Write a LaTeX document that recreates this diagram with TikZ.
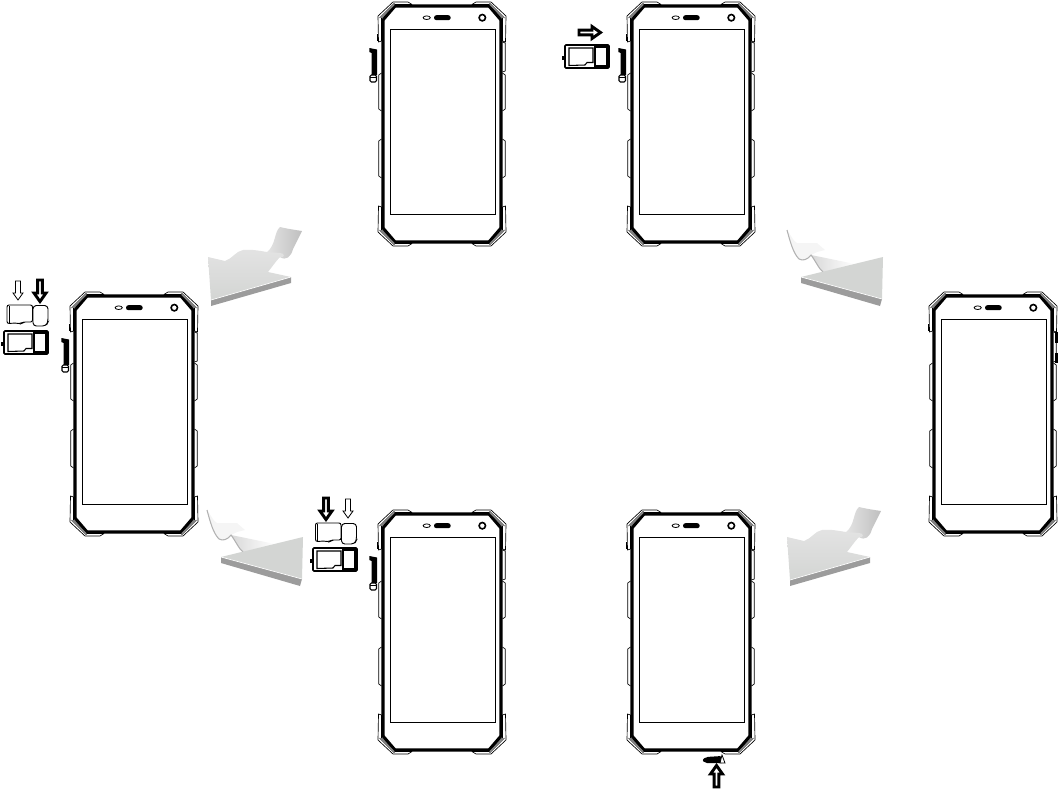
\documentclass[tikz,border=0pt]{standalone}
\usepackage{tikz}
\usetikzlibrary{positioning,calc}
\definecolor{flatgray}{HTML}{D3D5D3}
\definecolor{sidegray}{HTML}{9C9C9C}
\tikzset{
  pics/phone/.style={code={
    \draw[line width=2.3pt, black] (5,18) -- (17,4) -- (111,4) -- (123,18) -- (123,226) -- (111,240) -- (17,240) -- (5,226) -- cycle;
    \foreach \sx/\sy in {1/1,-1/1,1/-1,-1/-1} {
      \begin{scope}[shift={(64,122)}, xscale=\sx, yscale=\sy]
        \draw[line width=.5pt, fill=white, line join=round] (-64,-108) -- (-49,-122) -- (-34,-122) -- (-30,-119.5) -- (-47,-119.5) -- (-60.5,-106) -- (-60.5,-83) -- (-63.5,-82) -- cycle;
        \draw[line width=.5pt] (-62.5,-106) -- (-48,-120.5) -- (-47,-119.5);
      \end{scope}
    }
    \foreach \ya/\yb in {72/108,138/175} {
      \draw[line width=.5pt] (3.5,\ya-1) -- (.8,\ya+1) -- (.8,\yb-1) -- (3.5,\yb+1);
      \draw[line width=.5pt] (124.5,\ya-1) -- (127.2,\ya+1) -- (127.2,\yb-1) -- (124.5,\yb+1);
    }
    \draw[line width=.5pt] (124.5,40) -- (127.2,41) -- (127.2,69) -- (124.5,70);
    \draw[line width=1pt] (-.5,32) -- (-.5,39);
    \draw[line width=.75pt] (12.5,27) rectangle (117.5,212);
    \draw[line width=.6pt] (48.7,15.7) ellipse (3.6 and 1.8);
    \fill[black, rounded corners=1.8pt] (56,13.2) rectangle (72.7,18.2);
    \draw[line width=1.2pt] (104.3,15.7) circle (3.2);
  }},
  pics/traydoor/.style={code={
    \fill[black] (-8.7,46) -- (-1,47.5) -- (-1,73) -- (-6.3,73) -- (-6.3,51) -- (-8.7,50) -- cycle;
    \draw[line width=.8pt, fill=white, rounded corners=1pt] (-8,73) rectangle (-1.5,80);
    \draw[line width=.6pt] (-8,75.5) -- (-1.5,75.5);
  }},
  pics/simtray/.style={code={
    \fill[black] (-3,10.5) rectangle (0,14.5);
    \draw[line width=1.2pt, rounded corners=.8pt] (0,0) rectangle (44,23);
    \draw[line width=.8pt, fill=white] (4,3) -- (28,3) -- (28,17.5) -- (22,17.5) -- (20,20) -- (4,20.5) -- cycle;
    \draw[line width=1.5pt] (29.5,2) rectangle (42,21);
  }},
  pics/simcards/.style={code={
    \draw[line width=.7pt, rounded corners=1.5pt] (0,0) -- (25.5,0) -- (25.5,17) -- (16,17) -- (14,19) -- (10,18) -- (0,18.5) -- cycle;
    \draw[line width=.6pt] (2,1) -- (2,18);
    \draw[line width=.7pt, rounded corners=2.5pt] (26,.5) -- (41,.5) -- (41,17) -- (39,21) -- (26,21) -- cycle;
  }},
  pics/fatarrow/.style={code={
    \draw[line width=2.2pt, fill=white, miter limit=4] (-2.4,0) -- (2.4,0) -- (2.4,13) -- (6,13) -- (0,21.5) -- (-6,13) -- (-2.4,13) -- cycle;
  }},
  pics/slimarrow/.style={code={
    \draw[line width=.6pt, fill=white] (-2.5,0) -- (2.5,0) -- (2.5,12) -- (5,12) -- (0,19) -- (-5,12) -- (-2.5,12) -- cycle;
  }},
  pics/ribbonup/.style={code={
    \shade[left color=gray!22, right color=gray!50] (59,-5) .. controls (68,-12) and (66,-25) .. (72,-30) .. controls (80,-28) and (88,-27) .. (94,-26) .. controls (90,-18) and (87,-12) .. (85,-8) .. controls (83,0) and (78,4) .. (72,0) -- (60,0) -- cycle;
    \shade[top color=gray!22, bottom color=flatgray] (0,0) -- (17,4) .. controls (24,2) and (28,-6) .. (35,-7) .. controls (44,-8) and (52,-6) .. (59,-5) -- (72,-4) .. controls (78,-4) and (76,2) .. (72,0) .. controls (68,4) and (64,10) .. (60,15) -- (83,20) -- (3,43) -- cycle;
    \fill[sidegray] (83,20) -- (83,26) -- (3,49) -- (3,43) -- cycle;
    \draw[white, line width=.5pt] (83,20) -- (3,43);
  }},
  pics/ribbondown/.style={code={
    \fill[gray!8] (-96,-27) .. controls (-92,-22) and (-90,-16) .. (-86,-14) -- (-66,-14) -- (-58,-7) -- (-66,-5) -- (-72,-2) .. controls (-76,3) and (-80,4) .. (-84,2) .. controls (-90,-4) and (-93,-16) .. (-96,-27) -- cycle;
    \shade[left color=gray!30, right color=white] (-72,-2) .. controls (-68,3) and (-64,12) .. (-60,15) -- (-28,7) -- (-62,0) -- cycle;
    \draw[gray!60, line width=.8pt] (-96,-27) .. controls (-93,-16) and (-90,-4) .. (-84,2) .. controls (-80,4) and (-76,3) .. (-72,-2) .. controls (-68,3) and (-64,12) .. (-60,15);
    \fill[flatgray] (-82,20) -- (0,0) -- (-1,42) -- cycle;
    \fill[sidegray] (-82,20) -- (-1,42) -- (-3,49) -- (-82,26) -- cycle;
    \draw[white, line width=.5pt] (-82,20) -- (-1,42);
  }}
}
\begin{document}
\begin{tikzpicture}[x=0.75pt, y=-0.75pt]
\useasboundingbox (0,0) rectangle (1060,789);

\pic at (378,2) {phone};
\pic at (378,2) {traydoor};
\pic at (627,2) {phone};
\pic at (627,2) {traydoor};
\pic at (70,292) {phone};
\pic at (70,292) {traydoor};
\pic at (929,292) {phone};
\pic at (378,510) {phone};
\pic at (378,510) {traydoor};
\pic at (627,510) {phone};

\fill[black] (1055,332) rectangle (1058,343);
\fill[black] (1055,353) rectangle (1058,363);

\pic at (565,45) {simtray};
\pic[rotate=90] at (579,32.5) {fatarrow};

\pic at (4,331) {simtray};
\pic at (7,305) {simcards};
\pic at (18,281) {slimarrow};
\pic at (40,280) {fatarrow};

\pic at (313,548) {simtray};
\pic at (315.5,523) {simcards};
\pic at (326,498) {fatarrow};
\pic at (348,499) {slimarrow};

\fill[black, rounded corners=1.5pt] (702,760) -- (706,757) -- (722,756) -- (724,763) -- (705,763) -- cycle;
\draw[line width=.6pt, fill=white] (722,755) -- (725,763) -- (720,763) -- cycle;
\pic[rotate=180] at (716.5,787) {fatarrow};

\pic at (208,257) {ribbonup};
\pic at (787,537) {ribbonup};
\pic at (883,257) {ribbondown};
\pic at (303,537) {ribbondown};
\end{tikzpicture}
\end{document}
